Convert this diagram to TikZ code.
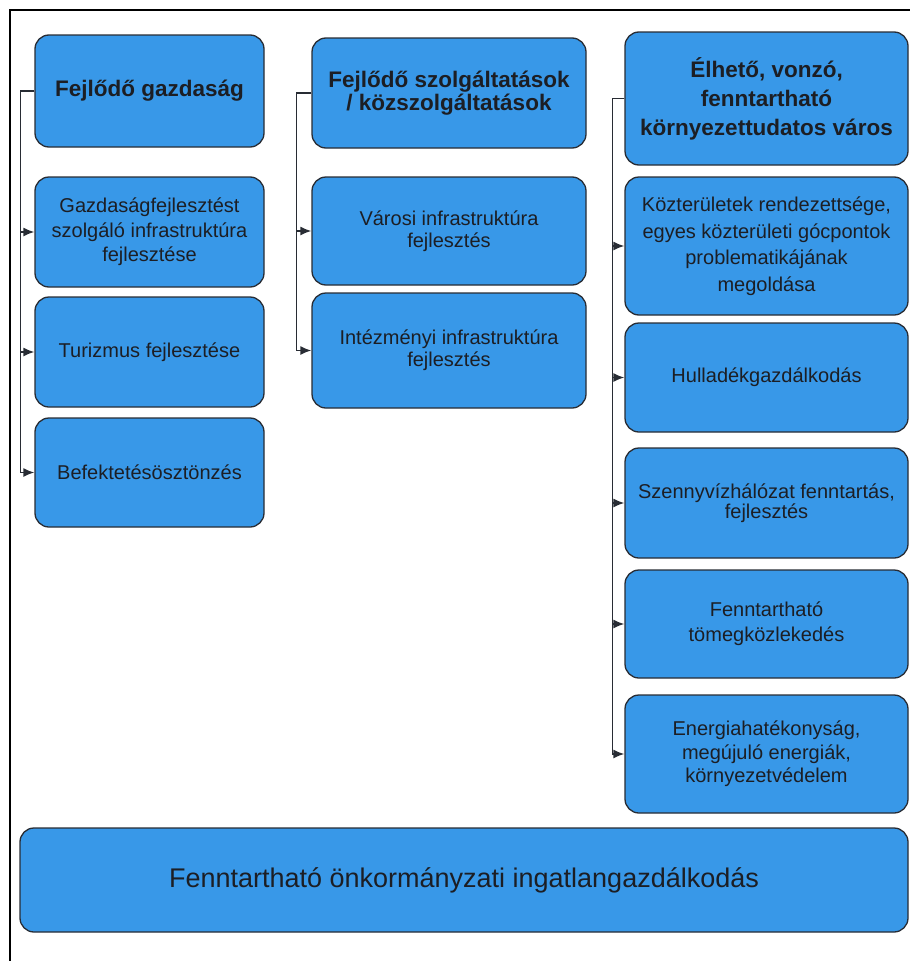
\documentclass[tikz,border=0pt]{standalone}
\usepackage{fontspec}
\setmainfont{Liberation Sans}
\usetikzlibrary{arrows.meta}
\definecolor{boxblue}{RGB}{56,152,232}
\definecolor{boxline}{RGB}{40,44,52}
\definecolor{txt}{RGB}{28,30,36}
\begin{document}
\begin{tikzpicture}[x=1pt,y=-1pt,
  box/.style={draw=boxline, fill=boxblue, line width=1.3pt, rounded corners=14pt,
    align=center, inner sep=0pt, text=txt},
  body/.style={font=\fontsize{20}{#1}\selectfont},
  head/.style={font=\bfseries\fontsize{22.5}{#1}\selectfont},
  conn/.style={draw=boxline, line width=1.5pt, -{Latex[length=11pt,width=9pt]}}]
\useasboundingbox (0,0) rectangle (910,961);
\draw[line width=2pt, black] (10,961) -- (10,10) -- (910,10);

% column 1
\node[box, head=27, minimum width=229pt, minimum height=112pt] (h1) at (149.5,91) {Fejlődő gazdaság};
\node[box, body=24.5, minimum width=229pt, minimum height=110pt] (a1) at (149.5,232) {Gazdaságfejlesztést\\szolgáló infrastruktúra\\fejlesztése};
\node[box, body=24, minimum width=229pt, minimum height=110pt] (a2) at (149.5,352) {Turizmus fejlesztése};
\node[box, body=24, minimum width=229pt, minimum height=109pt] (a3) at (149.5,472.5) {Befektetésösztönzés};

% column 2
\node[box, head=21, minimum width=274pt, minimum height=110pt] (h2) at (449,93) {Fejlődő szolgáltatások\\/ közszolgáltatások};
\node[box, body=22, minimum width=274pt, minimum height=108pt] (b1) at (449,231) {Városi infrastruktúra\\fejlesztés};
\node[box, body=22, minimum width=274pt, minimum height=115pt] (b2) at (449,350.5) {Intézményi infrastruktúra\\fejlesztés};

% column 3
\node[box, head=29, minimum width=283pt, minimum height=133pt] (h3) at (766.5,98.5) {Élhető, vonzó,\\fenntartható\\környezettudatos város};
\node[box, body=26.5, minimum width=283pt, minimum height=138pt] (c1) at (766.5,246) {Közterületek rendezettsége,\\egyes közterületi gócpontok\\problematikájának\\megoldása};
\node[box, body=24, minimum width=283pt, minimum height=109pt] (c2) at (766.5,377.5) {Hulladékgazdálkodás};
\node[box, body=20.5, minimum width=283pt, minimum height=110pt] (c3) at (766.5,503) {Szennyvízhálózat fenntartás,\\fejlesztés};
\node[box, body=25, minimum width=283pt, minimum height=108pt] (c4) at (766.5,624) {Fenntartható\\tömegközlekedés};
\node[box, body=23.5, minimum width=283pt, minimum height=118pt] (c5) at (766.5,754) {Energiahatékonyság,\\megújuló energiák,\\környezetvédelem};

% bottom
\node[box, font=\fontsize{27}{32}\selectfont, minimum width=888pt, minimum height=104pt] (bot) at (464,880) {Fenntartható önkormányzati ingatlangazdálkodás};

% connectors
\foreach \n in {a1,a2,a3}{\draw[conn] (h1.west) -- ++(-14,0) |- (\n.west);}
\foreach \n in {b1,b2}{\draw[conn] (h2.west) -- ++(-15,0) |- (\n.west);}
\foreach \n in {c1,c2,c3,c4,c5}{\draw[conn] (h3.west) -- ++(-12,0) |- (\n.west);}
\end{tikzpicture}
\end{document}
